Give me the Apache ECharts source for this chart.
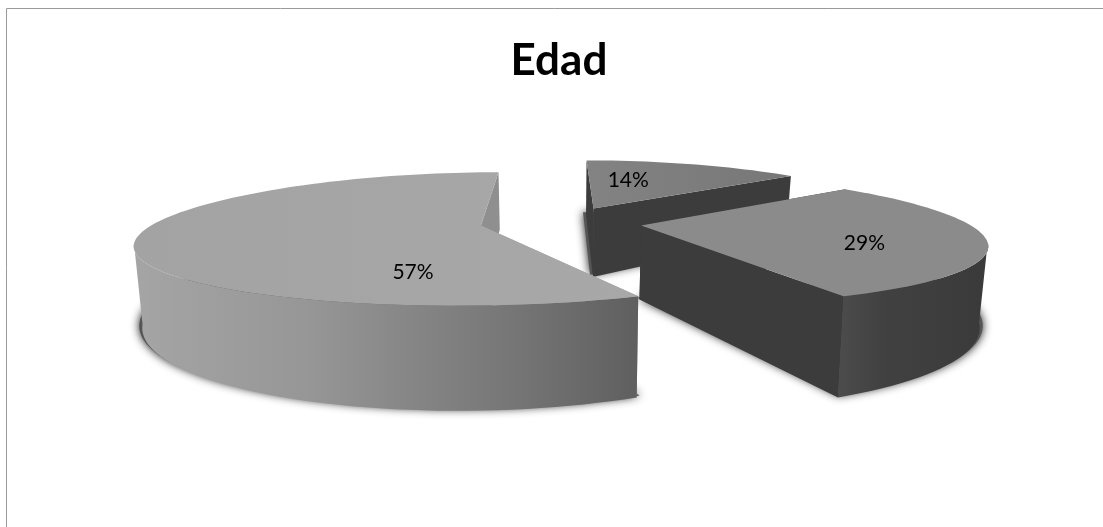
<!DOCTYPE html>
<html><head><meta charset="utf-8">
<style>html,body{margin:0;padding:0;background:#fff}#c{width:1103px;height:527px}</style>
<script src="https://cdn.jsdelivr.net/npm/echarts@6/dist/echarts.min.js"></script>
</head><body><div id="c"></div>
<script>
const chartTitle = 'Edad';
const values = [14, 29, 57];
const sliceLabels = ['14%', '29%', '57%'];

const scene = { cx: 561, cy: 222, A: 325, B: 62.6, ky: 0.2, H: 73, kH: 0.29, baseScale: 0.98, explode: 0.249 };
const styles = [
  { top: ['#838383', '#777777'], radial: ['#3c3c3c', '#3c3c3c'], arc: [[0, '#3c3c3c'], [1, '#3c3c3c']], label: [0.145, 0.55] },
  { top: ['#8b8b8b', '#8b8b8b'], radial: ['#3c3c3c', '#3c3c3c'], arc: [[0, '#4c4c4c'], [0.3, '#414141'], [1, '#3a3a3a']], label: [0.616, -0.26] },
  { top: ['#a3a3a3', '#a8a8a8'], radial: ['#999999', '#8f8f8f'], arc: [[0, '#a5a5a5'], [0.35, '#969696'], [0.75, '#767676'], [1, '#5f5f5f']], label: [-0.135, -0.635] }
];

const total = values.reduce((a, b) => a + b, 0);
const starts = values.map((_, i) => values.slice(0, i).reduce((a, b) => a + b, 0) / total * Math.PI * 2);

function project(X, Y) {
  const w = 1 + 0.26 * Y + 0.02 * Y * Y;
  return [scene.cx + scene.A * X / w, scene.cy - scene.B * Y / (1 + scene.ky * Y)];
}
function projectBase(X, Y) {
  const p = project(X, Y);
  return [scene.cx + (p[0] - scene.cx) * scene.baseScale, p[1] + scene.H / (1 + scene.kH * Y)];
}
function sliceGeom(i) {
  const a = starts[i], b = a + values[i] / total * Math.PI * 2, m = (a + b) / 2;
  const ox = Math.sin(m) * scene.explode, oy = Math.cos(m) * scene.explode;
  const n = Math.max(4, Math.round((b - a) / (Math.PI / 90)));
  const rim = [];
  for (let j = 0; j <= n; j++) {
    const t = a + (b - a) * j / n;
    rim.push([ox + Math.sin(t), oy + Math.cos(t), t]);
  }
  return { a, b, ox, oy, rim };
}
function poly(points, fill, extra) {
  return { type: 'polygon', shape: { points }, style: Object.assign({ fill, stroke: null }, extra || {}), silent: true };
}
function hGrad(stops) {
  return new echarts.graphic.LinearGradient(0, 0, 1, 0, stops.map(s => ({ offset: s[0], color: s[1] })));
}
function renderShadow(params, api) {
  const i = api.value(0), g = sliceGeom(i);
  const frontRim = g.rim.filter(r => Math.cos(r[2]) < 0.3);
  const rim = frontRim.length > 1 ? frontRim : g.rim;
  const pts = [projectBase(g.ox, g.oy)].concat(rim.map(r => projectBase(r[0], r[1])));
  const xs = pts.map(p => p[0]);
  const lo = Math.min.apply(null, xs), hi = Math.max.apply(null, xs);
  const cx = (lo + hi) / 2, s = 1 + 3 / ((hi - lo) / 2);
  const scaled = pts.map(p => [cx + (p[0] - cx) * s, p[1] - 2]);
  return poly(scaled, '#555555', { shadowBlur: 10, shadowColor: 'rgba(0,0,0,0.9)' });
}
function renderSlice(params, api) {
  const i = api.value(0), g = sliceGeom(i), st = styles[i];
  const apexT = project(g.ox, g.oy), apexB = projectBase(g.ox, g.oy);
  const first = g.rim[0], last = g.rim[g.rim.length - 1];
  const children = [];
  // radial walls
  children.push(poly([apexT, project(last[0], last[1]), projectBase(last[0], last[1]), apexB], st.radial[1]));
  children.push(poly([apexT, project(first[0], first[1]), projectBase(first[0], first[1]), apexB], st.radial[0]));
  // outer wall, up to the silhouette only
  const front = g.rim.filter(r => Math.cos(r[2]) < -0.25);
  if (front.length > 1) {
    const t = front.map(r => project(r[0], r[1]));
    const bt = front.map(r => projectBase(r[0], r[1])).reverse();
    children.push(poly(t.concat(bt), hGrad(st.arc)));
  }
  // top face
  const topPts = [apexT].concat(g.rim.map(r => project(r[0], r[1])));
  children.push(poly(topPts, hGrad([[0, st.top[0]], [1, st.top[1]]])));
  // label
  const lp = project(g.ox + st.label[0], g.oy + st.label[1]);
  children.push({ type: 'text', silent: true, style: {
    x: lp[0], y: lp[1], text: sliceLabels[i], fill: '#000',
    font: '21px Lato, "Open Sans", sans-serif', align: 'center', verticalAlign: 'middle'
  }});
  return { type: 'group', children };
}

const chart = echarts.init(document.getElementById('c'), null, { renderer: 'canvas' });
const idx = values.map((v, i) => [i, v]);
chart.setOption({
  animation: false,
  backgroundColor: '#ffffff',
  title: {
    text: chartTitle, left: 554, top: 34, textAlign: 'center',
    textStyle: { fontFamily: 'Lato, "Open Sans", sans-serif', fontWeight: 'bold', fontSize: 44, color: '#000' }
  },
  tooltip: { show: false },
  graphic: [
    { type: 'line', silent: true, shape: { x1: 6.5, y1: 8.5, x2: 1103, y2: 8.5 }, style: { stroke: '#9a9a9a', lineWidth: 1 } },
    { type: 'line', silent: true, shape: { x1: 6.5, y1: 8.5, x2: 6.5, y2: 527 }, style: { stroke: '#9a9a9a', lineWidth: 1 } }
  ],
  series: [
    { type: 'custom', coordinateSystem: 'none', renderItem: renderShadow, data: idx, z: 1, silent: true },
    { type: 'custom', coordinateSystem: 'none', renderItem: renderSlice, data: idx, z: 2, silent: true }
  ]
});
</script></body></html>
